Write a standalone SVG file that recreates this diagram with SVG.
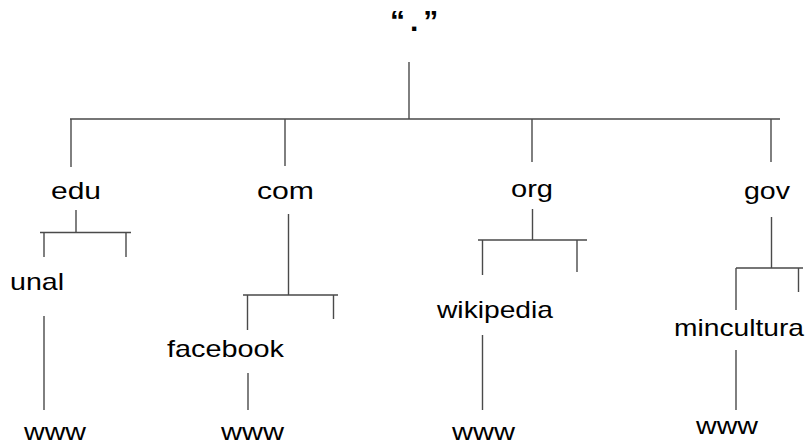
<svg xmlns="http://www.w3.org/2000/svg" width="806" height="444" viewBox="0 0 806 444">
<style>
  .bg { fill: #ffffff; }
  .lbl { font-family: "Liberation Sans", Arial, sans-serif; font-size: 24px; fill: #000000; }
  .root { font-family: "Liberation Sans", Arial, sans-serif; font-size: 30px; font-weight: bold; fill: #000000; }
  .edge { stroke: #4a4a4a; stroke-width: 1.4; fill: none; }
</style>
<rect class="bg" x="0" y="0" width="806" height="444"/>
<g id="connectors">
  <path class="edge" d="M409 62 V119 M70 119 H780 M71 119 V167 M285 119 V166 M532 119 V162 M771 119 V162"/>
  <path class="edge" d="M76 210 V232.5 M40 232.5 H131 M44 232.5 V257 M126 232.5 V257 M44 316 V410"/>
  <path class="edge" d="M288.5 214 V295 M243 295 H338 M247.5 295 V330 M333.5 295 V319 M248 373 V410"/>
  <path class="edge" d="M532.5 209 V240 M478 240 H587 M482.5 240 V275 M577 240 V272 M482.5 335 V410"/>
  <path class="edge" d="M771.5 217 V268 M736 268 H803 M736 268 V310 M798.5 268 V292 M736 350 V410"/>
</g>
<g id="node-root"><text class="root" x="390" y="31" letter-spacing="5">“.”</text></g>
<g id="node-edu"><text class="lbl" x="51" y="199" textLength="50" lengthAdjust="spacingAndGlyphs">edu</text></g>
<g id="node-com"><text class="lbl" x="257" y="199" textLength="57" lengthAdjust="spacingAndGlyphs">com</text></g>
<g id="node-org"><text class="lbl" x="511" y="197" textLength="42" lengthAdjust="spacingAndGlyphs">org</text></g>
<g id="node-gov"><text class="lbl" x="744" y="199" textLength="46" lengthAdjust="spacingAndGlyphs">gov</text></g>
<g id="node-unal"><text class="lbl" x="10" y="290" textLength="54" lengthAdjust="spacingAndGlyphs">unal</text></g>
<g id="node-facebook"><text class="lbl" x="167" y="357" textLength="117" lengthAdjust="spacingAndGlyphs">facebook</text></g>
<g id="node-wikipedia"><text class="lbl" x="437" y="318" textLength="116" lengthAdjust="spacingAndGlyphs">wikipedia</text></g>
<g id="node-mincultura"><text class="lbl" x="674" y="336" textLength="130" lengthAdjust="spacingAndGlyphs">mincultura</text></g>
<g id="node-www1"><text class="lbl" x="24" y="440" textLength="62" lengthAdjust="spacingAndGlyphs">www</text></g>
<g id="node-www2"><text class="lbl" x="221" y="440" textLength="63" lengthAdjust="spacingAndGlyphs">www</text></g>
<g id="node-www3"><text class="lbl" x="452" y="440" textLength="63" lengthAdjust="spacingAndGlyphs">www</text></g>
<g id="node-www4"><text class="lbl" x="696" y="434" textLength="62" lengthAdjust="spacingAndGlyphs">www</text></g>
</svg>
